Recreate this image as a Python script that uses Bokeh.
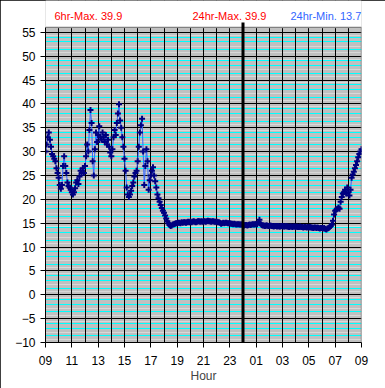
import numpy as np
from bokeh.plotting import figure
from bokeh.models import Range1d, FixedTicker, Grid, Label, Arrow
from bokeh.embed import file_html
from bokeh.resources import INLINE

# 5-minute temperature readings, one row per hour, starting 09:00
temp_daytime = [
    30.0, 31.5, 33.0, 34.0, 32.5, 31.0, 29.5, 29.0, 28.5, 28.0, 26.5, 25.5,   # 09
    24.5, 23.0, 22.2, 23.0, 27.0, 29.0, 27.0, 25.5, 23.5, 22.8, 22.5, 22.0,   # 10
    21.5, 21.0, 21.5, 22.3, 23.5, 24.0, 23.2, 24.8, 26.0, 25.5, 26.5, 25.5,   # 11
    27.0, 29.0, 31.5, 30.0, 34.5, 38.7, 36.0, 28.0, 25.0, 30.5, 34.0, 32.0,   # 12
    33.5, 35.3, 33.0, 32.5, 34.0, 33.0, 32.0, 33.5, 31.5, 32.5, 31.0, 29.8,   # 13
    29.0, 30.5, 33.0, 34.5, 33.5, 36.0, 38.0, 39.9, 36.5, 35.0, 33.0, 31.0,   # 14
    28.5, 26.0, 22.5, 21.0, 20.5, 21.0, 21.8, 22.8, 23.5, 24.8, 25.5, 26.0,   # 15
    28.0, 31.0, 34.0, 35.5, 36.9, 30.0, 23.0, 27.0, 30.5, 28.0, 22.0, 24.0,   # 16
    25.0, 26.0, 26.7, 25.0, 23.8, 22.5, 21.0, 20.2, 19.5, 18.8, 18.2, 17.6,   # 17
]
temp_evening = [
    17.2, 16.6, 16.0, 15.4, 15.0, 14.6, 14.4, 14.5, 14.7, 14.8, 14.9, 15.0,   # 18
    15.0, 15.1, 15.1, 15.0, 15.2, 15.1, 15.2, 15.2, 15.1, 15.2, 15.3, 15.2,   # 19
    15.3, 15.2, 15.3, 15.4, 15.3, 15.2, 15.3, 15.4, 15.4, 15.3, 15.4, 15.3,   # 20
    15.4, 15.4, 15.3, 15.4, 15.5, 15.4, 15.4, 15.3, 15.4, 15.4, 15.3, 15.3,   # 21
    15.3, 15.2, 15.2, 15.1, 14.9, 15.0, 15.1, 15.0, 15.1, 15.1, 15.0, 15.0,   # 22
    15.0, 14.9, 14.9, 14.8, 14.9, 14.8, 14.7, 14.8, 14.8, 14.7, 14.7, 14.7,   # 23
]
temp_night = [
    14.6, 14.5, 14.6, 14.6, 14.5, 14.6, 14.7, 14.6, 14.7, 14.8, 14.7, 14.8,   # 00
    14.8, 14.8, 15.2, 15.7, 14.9, 14.6, 14.5, 14.5, 14.4, 14.5, 14.5, 14.4,   # 01
    14.4, 14.5, 14.4, 14.4, 14.3, 14.4, 14.4, 14.3, 14.4, 14.3, 14.3, 14.4,   # 02
    14.4, 14.3, 14.3, 14.4, 14.3, 14.3, 14.2, 14.3, 14.3, 14.2, 14.3, 14.3,   # 03
    14.2, 14.3, 14.2, 14.2, 14.3, 14.2, 14.2, 14.1, 14.2, 14.2, 14.1, 14.2,   # 04
    14.1, 14.2, 14.1, 14.1, 14.0, 14.1, 14.1, 14.0, 14.1, 14.0, 13.9, 14.0,   # 05
]
temp_morning = [
    14.0, 13.9, 14.0, 13.8, 13.7, 13.9, 14.0, 14.2, 14.4, 14.7, 15.5, 16.8,   # 06
    17.6, 17.8, 18.0, 18.3, 18.0, 19.5, 20.5, 21.2, 21.5, 22.0, 21.2, 22.5,   # 07
    21.5, 20.8, 22.0, 24.5, 25.2, 25.8, 26.5, 27.2, 28.0, 28.8, 29.5, 30.0,   # 08
    30.5,                                                                     # 09
]

temps = temp_daytime + temp_evening + temp_night + temp_morning
hours = 9 + np.arange(len(temps)) / 12.0

tick_hours = [9, 11, 13, 15, 17, 19, 21, 23, 25, 27, 29, 31, 33]
tick_labels = ["09", "11", "13", "15", "17", "19", "21", "23", "01", "03", "05", "07", "09"]
y_ticks = list(range(-10, 60, 5))
header_texts = ["6hr-Max. 39.9", "24hr-Max. 39.9", "24hr-Min. 13.7"]
header_colors = ["#ff0000", "#ff0000", "#3366ff"]

FONT = "Liberation Sans"
Y_LO, Y_HI = -10, 56          # plotted value range
PX_PER_UNIT = 315 / 66.0
Y_TOP = Y_HI + 27 / PX_PER_UNIT   # frame extended up to hold the header line

p = figure(width=385, height=388, output_backend="svg", toolbar_location=None,
           x_range=Range1d(9, 33), y_range=Range1d(Y_LO, Y_TOP),
           min_border_left=45, min_border_right=24, min_border_top=0, min_border_bottom=46)
p.styles = {"outline": "1px solid black", "outline-offset": "-1px"}
p.background_fill_color = "#c0c0c0"
p.border_fill_color = "white"
p.outline_line_color = None

# major grids
p.xgrid.ticker = FixedTicker(ticks=list(range(9, 34)))
p.xgrid.grid_line_color = "black"
p.xgrid.grid_line_width = 1
p.ygrid.ticker = FixedTicker(ticks=y_ticks)
p.ygrid.grid_line_color = "black"
p.ygrid.grid_line_width = 1

# minor horizontal lines (cyan and light grey) within each 5-degree band
cyan_ticks = [b + o for b in range(-10, 56, 5) for o in (1.4, 3.0, 4.0) if b + o < Y_HI]
grey_ticks = [b + o for b in range(-10, 56, 5) for o in (0.7, 2.1, 4.4) if b + o < Y_HI]
g1 = Grid(dimension=1, ticker=FixedTicker(ticks=grey_ticks), grid_line_color="#d8d8d8",
          grid_line_width=1, level="image")
g2 = Grid(dimension=1, ticker=FixedTicker(ticks=cyan_ticks), grid_line_color="#00ffff",
          grid_line_width=1, level="image")
p.add_layout(g1)
p.add_layout(g2)

# white header strip above the plotting area, and plot-area edges
p.quad(left=9, right=33, bottom=Y_HI, top=Y_TOP, fill_color="white", line_color=None)
p.line([9, 33, 33], [Y_HI, Y_HI, Y_LO], line_color="#808080", line_width=1.5)

# axes
for ax in (p.xaxis[0], p.yaxis[0]):
    ax.axis_line_color = "black"
    ax.major_tick_line_color = "black"
    ax.major_tick_out = 5
    ax.major_tick_in = 0
    ax.minor_tick_line_color = None
    ax.major_label_text_font = FONT
    ax.major_label_text_font_size = "12px"
    ax.major_label_text_color = "black"

p.xaxis.ticker = FixedTicker(ticks=tick_hours)
p.xaxis.major_label_overrides = {h: s for h, s in zip(tick_hours, tick_labels)}
p.xaxis.major_label_standoff = 8
p.xaxis.axis_label = "Hour"
p.xaxis.axis_label_text_font = FONT
p.xaxis.axis_label_text_font_size = "12px"
p.xaxis.axis_label_text_font_style = "normal"
p.xaxis.axis_label_standoff = 1
p.yaxis.ticker = FixedTicker(ticks=y_ticks)
p.yaxis.major_label_standoff = 5
p.yaxis.bounds = (Y_LO, Y_HI)

# data
p.line(hours, temps, line_color="#3366ff", line_width=1)
p.scatter(hours, temps, marker="cross", size=6, line_color="#000080", line_width=2)

# midnight marker
p.add_layout(Arrow(end=None, x_start=24, y_start=57.05, x_end=24, y_end=-12.4,
                   line_color="black", line_width=3))

# header texts
for x, t, c in zip([9.68, 20.16, 27.6], header_texts, header_colors):
    p.add_layout(Label(x=x, y=Y_TOP - 15 / PX_PER_UNIT, text=t, text_color=c,
                       text_font=FONT, text_font_size="11px",
                       text_baseline="middle", text_align="left"))

open("out.html", "w").write(file_html(p, INLINE))
